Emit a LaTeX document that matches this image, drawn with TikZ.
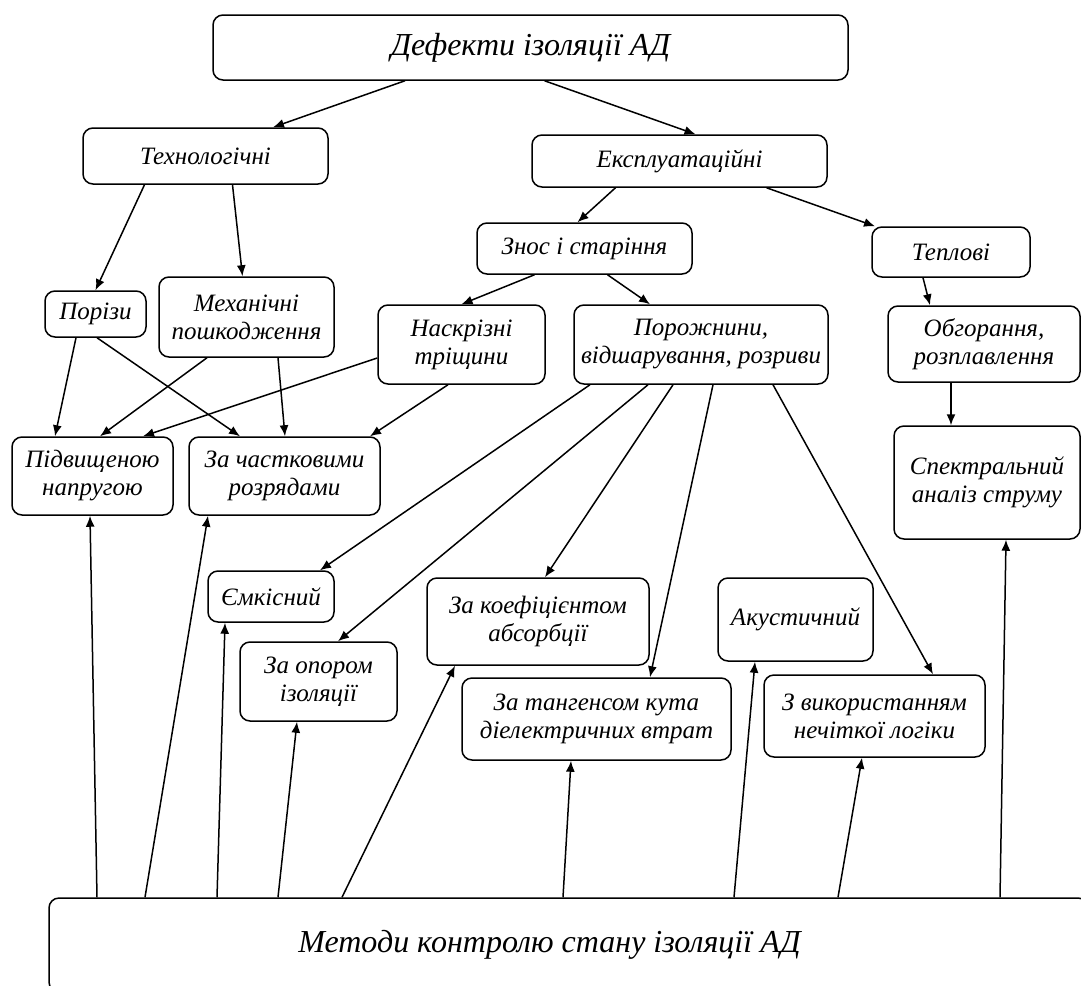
\documentclass[tikz,border=0pt]{standalone}
\usepackage{fontspec}
\setmainfont{Liberation Serif}
\usetikzlibrary{arrows.meta, calc}

\begin{document}
\begin{tikzpicture}[x=0.5pt, y=0.5pt,
    blk/.style={draw, rounded corners=5pt, line width=0.75pt, align=center, inner sep=1pt,
        font=\itshape\fontsize{12.5}{14}\selectfont},
    arr/.style={-{Latex[length=5.5pt, width=4.5pt]}, line width=0.75pt}]
    \useasboundingbox (0,0) rectangle (1081,-985);

    \node [blk, minimum width=317.5pt, minimum height=32.5pt, font=\itshape\fontsize{16}{18}\selectfont] (defekty) at (530.5,-47.5) {Дефекти ізоляції АД};
    \node [blk, minimum width=122.5pt, minimum height=28pt] (tekhn) at (205.5,-156) {Технологічні};
    \node [blk, minimum width=147.5pt, minimum height=26pt] (ekspl) at (679.5,-161) {Експлуатаційні};
    \node [blk, minimum width=107.5pt, minimum height=25.5pt] (znos) at (584.5,-248.5) {Знос і старіння};
    \node [blk, minimum width=79pt, minimum height=25pt] (teplovi) at (951,-252) {Теплові};
    \node [blk, minimum width=50.5pt, minimum height=23pt] (porizy) at (95.5,-314) {Порізи};
    \node [blk, minimum width=87.5pt, minimum height=40pt] (mekh) at (246.5,-317) {Механічні\\пошкодження};
    \node [blk, minimum width=83.5pt, minimum height=39.5pt] (naskr) at (461.5,-344.5) {Наскрізні\\тріщини};
    \node [blk, minimum width=127pt, minimum height=39.5pt] (porozh) at (701,-344.5) {Порожнини,\\відшарування, розриви};
    \node [blk, minimum width=96pt, minimum height=38pt] (obhor) at (984,-344) {Обгорання,\\розплавлення};
    \node [blk, minimum width=80.5pt, minimum height=39pt] (pidv) at (92.5,-476) {Підвищеною\\напругою};
    \node [blk, minimum width=95.5pt, minimum height=39pt] (chast) at (284.5,-476) {За частковими\\розрядами};
    \node [blk, minimum width=93pt, minimum height=56.5pt] (spektr) at (987,-482.5) {Спектральний\\аналіз струму};
    \node [blk, minimum width=63pt, minimum height=25.5pt] (yemk) at (271,-596.5) {Ємкісний};
    \node [blk, minimum width=78.5pt, minimum height=39.5pt] (opor) at (318.5,-681.5) {За опором\\ізоляції};
    \node [blk, minimum width=111pt, minimum height=43.5pt] (koef) at (538,-621.5) {За коефіцієнтом\\абсорбції};
    \node [blk, minimum width=134.5pt, minimum height=41pt] (tang) at (596.5,-719) {За тангенсом кута\\діелектричних втрат};
    \node [blk, minimum width=77.5pt, minimum height=41.5pt] (akust) at (795.5,-619.5) {Акустичний};
    \node [blk, minimum width=110.5pt, minimum height=41pt] (nechit) at (874.5,-716) {З використанням\\нечіткої логіки};
    \node [blk, minimum width=519.5pt, minimum height=47pt, font=\itshape\fontsize{16}{18}\selectfont] (metody) at (568.5,-945) {Методи контролю стану ізоляції АД\hspace*{19pt}};

    \draw [arr] ($(defekty.south)+(-125.5,0)$) -- ($(tekhn.north)+(67.5,0)$);
    \draw [arr] ($(defekty.south)+(14,0)$) -- ($(ekspl.north)+(16,0)$);
    \draw [arr] ($(tekhn.south)+(-61,0)$) -- (porizy.north);
    \draw [arr] ($(tekhn.south)+(27,0)$) -- ($(mekh.north)+(-4,0)$);
    \draw [arr] ($(ekspl.south)+(-64,0)$) -- ($(znos.north)+(-7,0)$);
    \draw [arr] ($(ekspl.south)+(87,0)$) -- ($(teplovi.north)+(-76,0)$);
    \draw [arr] ($(znos.south)+(-50,0)$) -- (naskr.north);
    \draw [arr] ($(znos.south)+(23,0)$) -- ($(porozh.north)+(-51,0)$);
    \draw [arr] ($(teplovi.south)+(-28,0)$) -- ($(obhor.north)+(-54,0)$);
    \draw [arr] ($(obhor.south)+(-33,0)$) -- ($(spektr.north)+(-36,0)$);

    \draw [arr] ($(porizy.south)+(-19.5,0)$) -- ($(pidv.north)+(-37.5,0)$);
    \draw [arr] ($(porizy.south)+(1.5,0)$) -- ($(chast.north)+(-44.5,0)$);
    \draw [arr] ($(mekh.south)+(-39.5,0)$) -- ($(pidv.north)+(7.5,0)$);
    \draw [arr] ($(mekh.south)+(31.5,0)$) -- ($(chast.north)+(0.5,0)$);
    \draw [arr] ($(naskr.west)+(0,-13.5)$) -- ($(pidv.north)+(50.5,0)$);
    \draw [arr] ($(naskr.south)+(-13.5,0)$) -- ($(chast.north)+(85.5,0)$);

    \draw [arr] ($(porozh.south)+(-111,0)$) -- ($(yemk.north)+(49,0)$);
    \draw [arr] ($(porozh.south)+(-53,0)$) -- ($(opor.north)+(19.5,0)$);
    \draw [arr] ($(porozh.south)+(-28,0)$) -- ($(koef.north)+(7,0)$);
    \draw [arr] ($(porozh.south)+(12,0)$) -- ($(tang.north)+(53.5,0)$);
    \draw [arr] ($(porozh.south)+(72,0)$) -- ($(nechit.north)+(58.5,0)$);

    \draw [arr] ($(metody.north)+(-471.5,0)$) -- ($(pidv.south)+(-2.5,0)$);
    \draw [arr] ($(metody.north)+(-423.5,0)$) -- ($(chast.south)+(-76.5,0)$);
    \draw [arr] ($(metody.north)+(-351.5,0)$) -- ($(yemk.south)+(-46,0)$);
    \draw [arr] ($(metody.north)+(-290.5,0)$) -- ($(opor.south)+(-21.5,0)$);
    \draw [arr] ($(metody.north)+(-226.5,0)$) -- ($(koef.south)+(-83,0)$);
    \draw [arr] ($(metody.north)+(-5.5,0)$) -- ($(tang.south)+(-25.5,0)$);
    \draw [arr] ($(metody.north)+(165.5,0)$) -- ($(akust.south)+(-40.5,0)$);
    \draw [arr] ($(metody.north)+(269.5,0)$) -- ($(nechit.south)+(-12.5,0)$);
    \draw [arr] ($(metody.north)+(431.5,0)$) -- ($(spektr.south)+(19,0)$);
\end{tikzpicture}
\end{document}
